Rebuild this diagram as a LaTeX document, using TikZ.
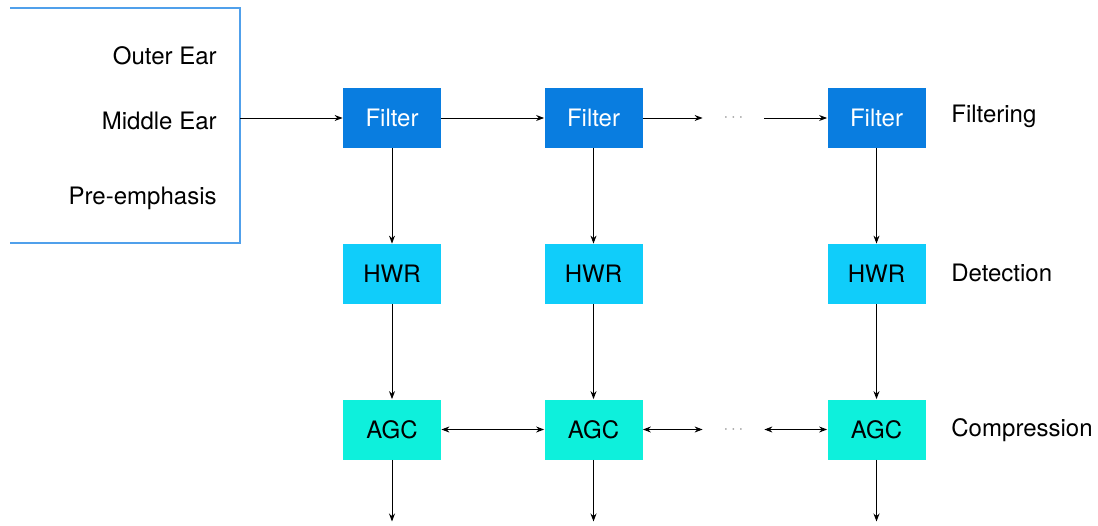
\documentclass[tikz,border=0pt]{standalone}
\usepackage{fontspec}
\setmainfont{TeX Gyre Heros}
\usetikzlibrary{positioning,arrows.meta}
\definecolor{filterblue}{RGB}{9,125,224}
\definecolor{hwrblue}{RGB}{16,205,250}
\definecolor{agccyan}{RGB}{14,240,220}
\definecolor{panelblue}{RGB}{80,160,235}

\begin{document}
\begin{tikzpicture}[x=0.5pt,y=-0.5pt,on grid,
   >={Stealth[length=4pt,width=3pt]},
   every node/.style={font=\fontsize{12}{14}\selectfont},
   block/.style={minimum width=49pt,minimum height=30pt,inner sep=0pt},
   filterbox/.style={block,fill=filterblue,text=white},
   hwrbox/.style={block,fill=hwrblue},
   agcbox/.style={block,fill=agccyan},
   dots/.style={minimum width=30.5pt,inner sep=0pt,text=gray!80,font=\fontsize{8}{10}\selectfont},
   stagelabel/.style={inner sep=0pt},
   wire/.style={line width=0.5pt}]
   \useasboundingbox (0,0) rectangle (1098,525);
   % outer / middle ear panel
   \draw[panelblue,line width=0.75pt] (10,8) -- (240,8) -- (240,243) -- (10,243);
   \coordinate (in) at (240,118);
   \node[stagelabel,anchor=east] (outer) at (217,56) {Outer Ear};
   \node[stagelabel,anchor=east] (middle) at (217,121) {Middle Ear};
   \node[stagelabel,anchor=east] (pre) at (217,198) {Pre-emphasis};
   % channels
   \node[filterbox] (f1) at (392,118) {Filter};
   \node[filterbox] (f2) [right=100.75pt of f1] {Filter};
   \node[dots] (d1) [right=70pt of f2] {$\cdots$};
   \node[filterbox] (f3) [right=141.5pt of f2] {Filter};
   \node[hwrbox] (h1) [below=78pt of f1] {HWR};
   \node[hwrbox] (h2) [below=78pt of f2] {HWR};
   \node[hwrbox] (h3) [below=78pt of f3] {HWR};
   \node[agcbox] (a1) [below=77.75pt of h1] {AGC};
   \node[agcbox] (a2) [below=77.75pt of h2] {AGC};
   \node[dots] (d2) [below=155.75pt of d1] {$\cdots$};
   \node[agcbox] (a3) [below=77.75pt of h3] {AGC};
   \foreach \i in {1,2,3}
      \coordinate[below=46pt of a\i] (out\i);
   % stage labels
   \node[stagelabel,anchor=west] (filtering) at (951,116) {Filtering};
   \node[stagelabel,anchor=west] (detection) at (951,273) {Detection};
   \node[stagelabel,anchor=west] (compression) at (951,430) {Compression};
   % connectors
   \draw[wire,->] (in) -- (f1);
   \draw[wire,->] (f1) -- (f2);
   \draw[wire,->] (f2) -- (d1);
   \draw[wire,->] (d1) -- (f3);
   \foreach \i in {1,2,3} {
      \draw[wire,->] (f\i) -- (h\i);
      \draw[wire,->] (h\i) -- (a\i);
      \draw[wire,->] (a\i) -- (out\i);
   }
   \draw[wire,<->] (a1) -- (a2);
   \draw[wire,<->] (a2) -- (d2);
   \draw[wire,<->] (d2) -- (a3);
\end{tikzpicture}
\end{document}
